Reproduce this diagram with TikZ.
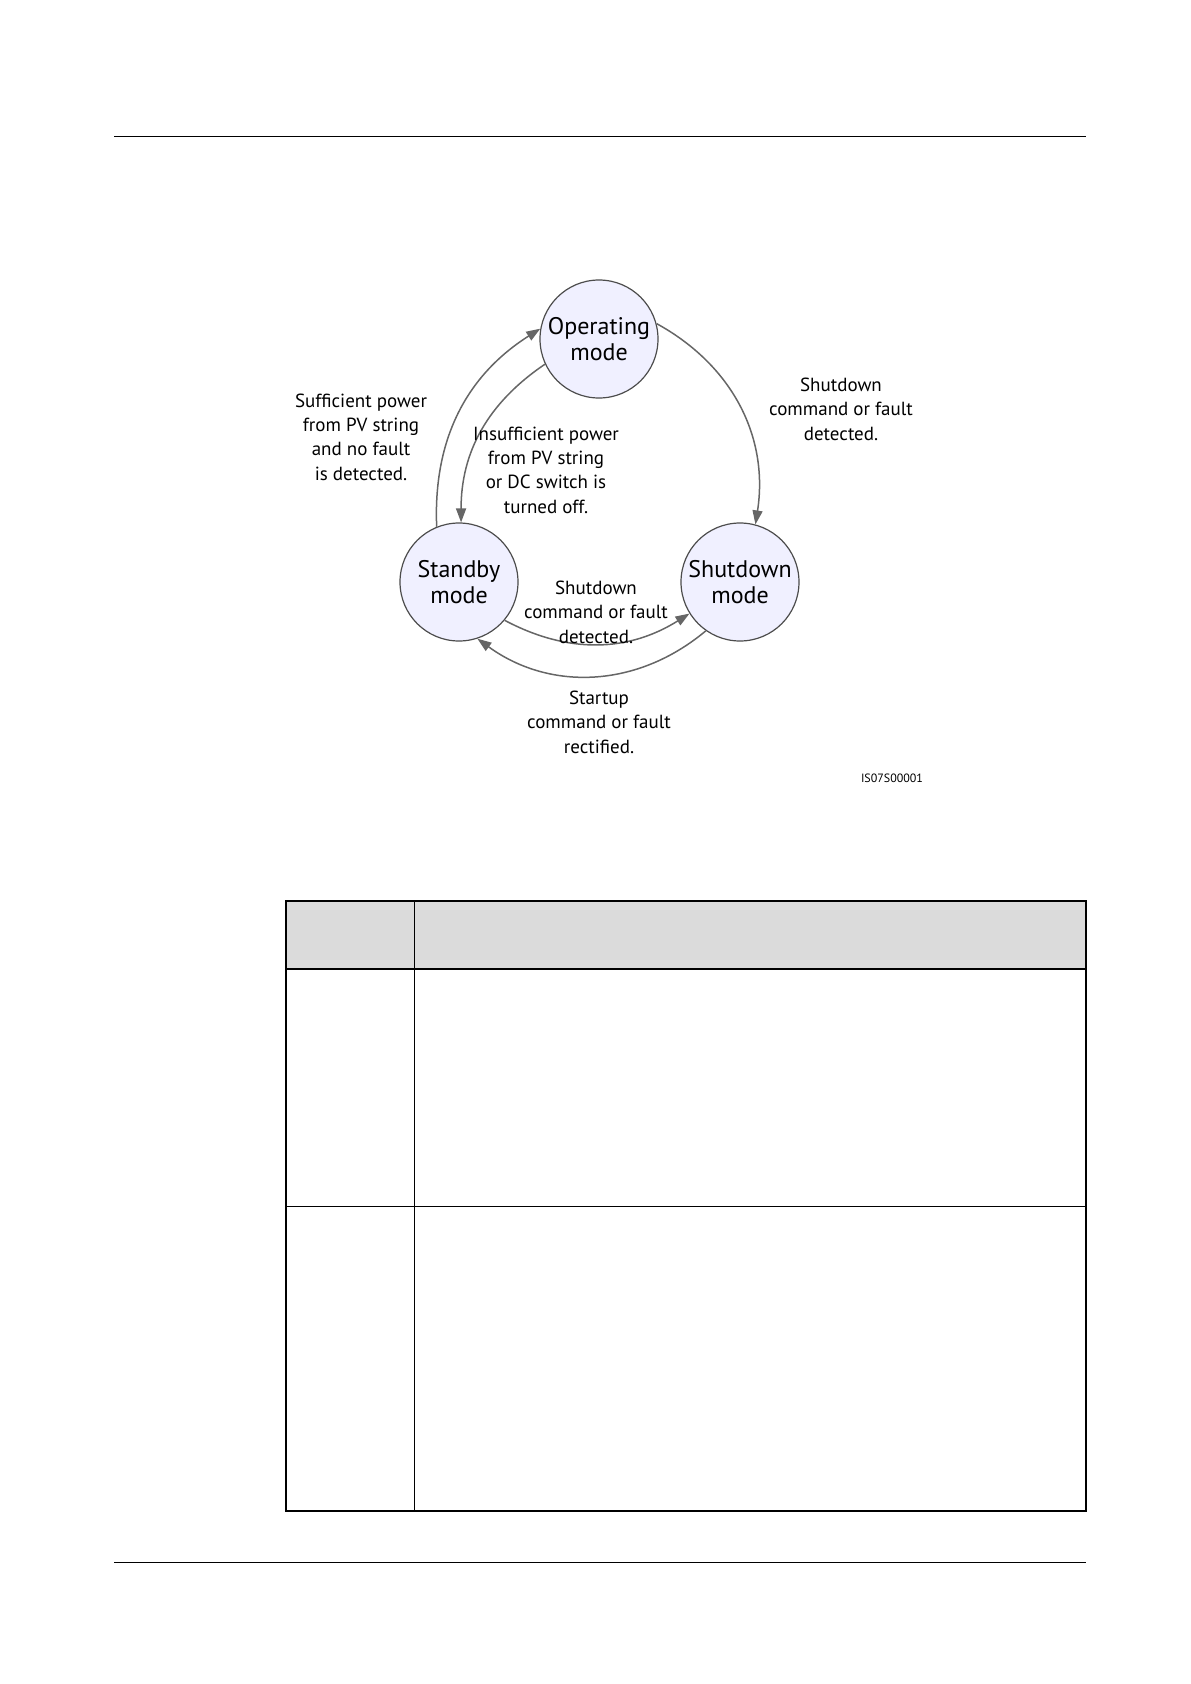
\documentclass[tikz,border=0pt]{standalone}
\usepackage{fontspec}
\setmainfont{PT Sans}
\usetikzlibrary{arrows.meta}
\begin{document}
\begin{tikzpicture}[x=1pt,y=-1pt,
  state/.style={circle,draw=black!70,line width=1.2pt,fill=blue!6,minimum size=118pt,inner sep=0pt,align=center,font=\fontsize{24}{26}\selectfont},
  lbl/.style={align=center,font=\fontsize{19}{24.4}\selectfont},
  conn/.style={draw=black!60,line width=1.5pt,-{Triangle[length=14pt,width=10pt]}}]
\useasboundingbox (0,0) rectangle (1191,1684);
\draw[line width=0.8pt] (114,136) -- (1086,136);
\draw[line width=0.8pt] (114,1562) -- (1086,1562);
\node[state] (op) at (599,339) {Operating\\mode};
\node[state] (sb) at (459,582) {Standby\\mode};
\node[state] (sd) at (740,582) {Shutdown\\mode};
\draw[conn] (op.15) to[bend left=35] (sd.75);
\draw[conn] (sb.112) to[bend left=30] (op.170);
\draw[conn] (op.205) to[bend right=28] (sb.88);
\draw[conn] (sb.-40) to[bend right=30] (sd.212);
\draw[conn] (sd.-125) to[bend left=38] (sb.-72);
\node[lbl] (l1) at (361,437) {Sufficient power\\from PV string\\and no fault\\is detected.};
\node[lbl] (l2) at (546,470) {Insufficient power\\from PV string\\or DC switch is\\turned off.};
\node[lbl] (l3) at (841,409) {Shutdown\\command or fault\\detected.};
\node[lbl] (l4) at (596,612) {Shutdown\\command or fault\\detected.};
\node[lbl] (l5) at (599,722) {Startup\\command or fault\\rectified.};
\node[font=\fontsize{12}{14}\selectfont] (id) at (892,778) {IS07S00001};
\fill[black!14] (286,901) rectangle (1086,969);
\draw[line width=1.4pt] (286,901) rectangle (1086,1511);
\draw[line width=1.4pt] (286,969) -- (1086,969);
\draw[line width=0.8pt] (286,1206) -- (1086,1206);
\draw[line width=0.8pt] (414,901) -- (414,1511);
\end{tikzpicture}
\end{document}
